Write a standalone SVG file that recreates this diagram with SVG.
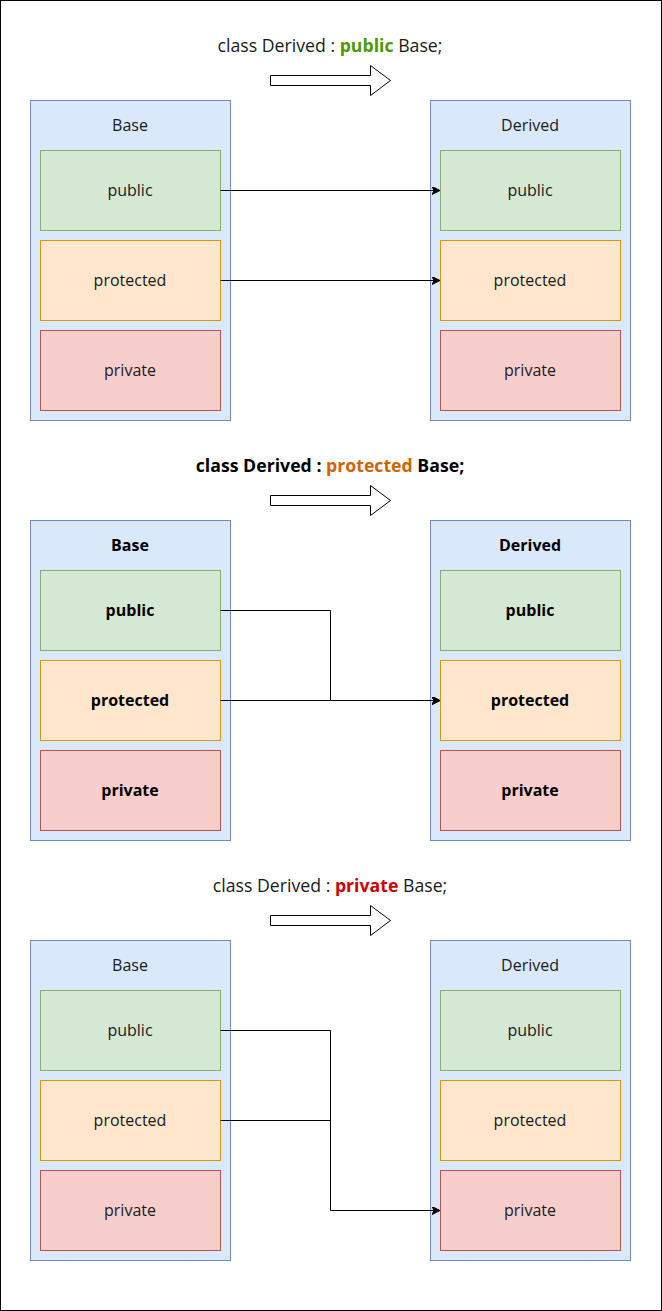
<svg xmlns="http://www.w3.org/2000/svg" width="662" height="1311" viewBox="0 0 662 1311">
<style>
text{font-family:"Open Sans","Liberation Sans",sans-serif;font-size:16px;fill:#1a1a1a;text-anchor:middle;dominant-baseline:central}
.t{font-size:17.7px}
.b{font-weight:bold}
.cont{fill:#dae8fc;stroke:#6c8ebf}
.pub{fill:#d5e8d4;stroke:#82b366}
.pro{fill:#ffe6cc;stroke:#d79b00}
.pri{fill:#f8cecc;stroke:#b85450}
.big{fill:#fff;stroke:#000;stroke-width:1}
.c{fill:none;stroke:#000;stroke-width:1}
</style>
<defs>
<marker id="ah" markerWidth="10" markerHeight="10" refX="8" refY="4" orient="auto" markerUnits="userSpaceOnUse">
<path d="M0,0 L8,4 L0,8 L2,4 Z" fill="#000" stroke="#000" stroke-width="1"/>
</marker>
</defs>
<rect x="0.5" y="0.5" width="661" height="1310" fill="#fff" stroke="#000"/>

<!-- Section 1 -->
<g id="title1"><text class="t" x="330" y="45">class Derived : <tspan class="b" style="fill:#4d9900">public</tspan> Base;</text></g>
<g id="arrow1"><path class="big" d="M270.5,75.5 H370.5 V65.5 L390.5,80.5 L370.5,95.5 V85.5 H270.5 Z"/></g>
<g id="base1"><rect class="cont" x="30.5" y="100.5" width="200" height="320"/><text x="130" y="125">Base</text></g>
<g id="base1-public"><rect class="pub" x="40.5" y="150.5" width="180" height="80"/><text x="130" y="190">public</text></g>
<g id="base1-protected"><rect class="pro" x="40.5" y="240.5" width="180" height="80"/><text x="130" y="280">protected</text></g>
<g id="base1-private"><rect class="pri" x="40.5" y="330.5" width="180" height="80"/><text x="130" y="370">private</text></g>
<g id="derived1"><rect class="cont" x="430.5" y="100.5" width="200" height="320"/><text x="530" y="125">Derived</text></g>
<g id="derived1-public"><rect class="pub" x="440.5" y="150.5" width="180" height="80"/><text x="530" y="190">public</text></g>
<g id="derived1-protected"><rect class="pro" x="440.5" y="240.5" width="180" height="80"/><text x="530" y="280">protected</text></g>
<g id="derived1-private"><rect class="pri" x="440.5" y="330.5" width="180" height="80"/><text x="530" y="370">private</text></g>

<!-- Section 2 -->
<g id="title2"><text x="330" y="465" class="t b" style="fill:#000">class Derived : <tspan style="fill:#cc6600">protected</tspan> Base;</text></g>
<g id="arrow2"><path class="big" d="M270.5,495.5 H370.5 V485.5 L390.5,500.5 L370.5,515.5 V505.5 H270.5 Z"/></g>
<g id="base2"><rect class="cont" x="30.5" y="520.5" width="200" height="320"/><text class="b" x="130" y="545" style="fill:#000">Base</text></g>
<g id="base2-public"><rect class="pub" x="40.5" y="570.5" width="180" height="80"/><text class="b" x="130" y="610" style="fill:#000">public</text></g>
<g id="base2-protected"><rect class="pro" x="40.5" y="660.5" width="180" height="80"/><text class="b" x="130" y="700" style="fill:#000">protected</text></g>
<g id="base2-private"><rect class="pri" x="40.5" y="750.5" width="180" height="80"/><text class="b" x="130" y="790" style="fill:#000">private</text></g>
<g id="derived2"><rect class="cont" x="430.5" y="520.5" width="200" height="320"/><text class="b" x="530" y="545" style="fill:#000">Derived</text></g>
<g id="derived2-public"><rect class="pub" x="440.5" y="570.5" width="180" height="80"/><text class="b" x="530" y="610" style="fill:#000">public</text></g>
<g id="derived2-protected"><rect class="pro" x="440.5" y="660.5" width="180" height="80"/><text class="b" x="530" y="700" style="fill:#000">protected</text></g>
<g id="derived2-private"><rect class="pri" x="440.5" y="750.5" width="180" height="80"/><text class="b" x="530" y="790" style="fill:#000">private</text></g>

<!-- Section 3 -->
<g id="title3"><text class="t" x="330" y="885">class Derived : <tspan class="b" style="fill:#cc0000">private</tspan> Base;</text></g>
<g id="arrow3"><path class="big" d="M270.5,915.5 H370.5 V905.5 L390.5,920.5 L370.5,935.5 V925.5 H270.5 Z"/></g>
<g id="base3"><rect class="cont" x="30.5" y="940.5" width="200" height="320"/><text x="130" y="965">Base</text></g>
<g id="base3-public"><rect class="pub" x="40.5" y="990.5" width="180" height="80"/><text x="130" y="1030">public</text></g>
<g id="base3-protected"><rect class="pro" x="40.5" y="1080.5" width="180" height="80"/><text x="130" y="1120">protected</text></g>
<g id="base3-private"><rect class="pri" x="40.5" y="1170.5" width="180" height="80"/><text x="130" y="1210">private</text></g>
<g id="derived3"><rect class="cont" x="430.5" y="940.5" width="200" height="320"/><text x="530" y="965">Derived</text></g>
<g id="derived3-public"><rect class="pub" x="440.5" y="990.5" width="180" height="80"/><text x="530" y="1030">public</text></g>
<g id="derived3-protected"><rect class="pro" x="440.5" y="1080.5" width="180" height="80"/><text x="530" y="1120">protected</text></g>
<g id="derived3-private"><rect class="pri" x="440.5" y="1170.5" width="180" height="80"/><text x="530" y="1210">private</text></g>

<g id="connectors">
<path class="c" d="M220.5,190.5 H440" marker-end="url(#ah)"/>
<path class="c" d="M220.5,280.5 H440" marker-end="url(#ah)"/>
<path class="c" d="M220.5,610.5 H330.5 V700.5 H440" marker-end="url(#ah)"/>
<path class="c" d="M220.5,700.5 H440" marker-end="url(#ah)"/>
<path class="c" d="M220.5,1030.5 H330.5 V1210.5 H440" marker-end="url(#ah)"/>
<path class="c" d="M220.5,1120.5 H330.5"/>
</g>
</svg>
